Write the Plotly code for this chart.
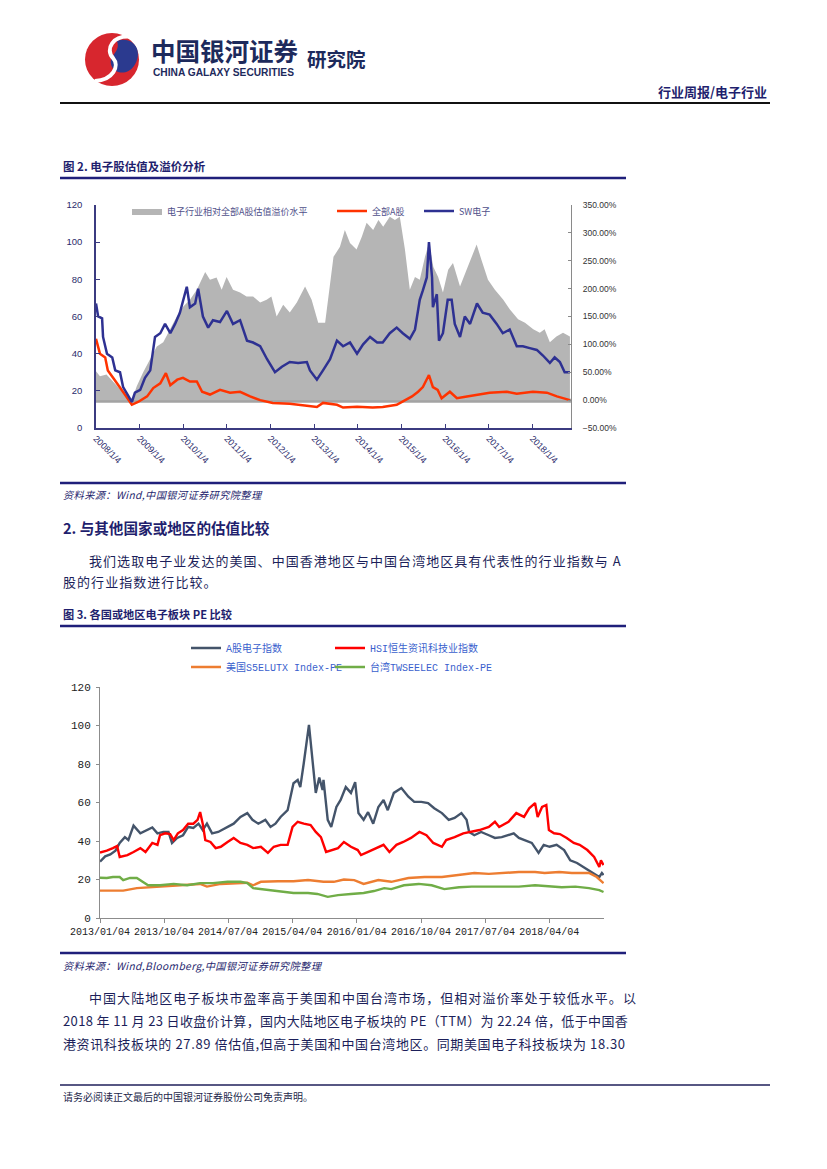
import plotly.graph_objects as go
import pandas as pd

# The page body adds an 8px margin, so the figure is drawn 8px in from the window edge.
OFF = 8
W, H = 827 - OFF, 1169 - OFF


def X(px):
    return (px - OFF) / W


def Y(py):
    return 1 - (py - OFF) / H


def to_dates(years):
    out = []
    for t in years:
        y = int(t)
        s = pd.Timestamp(year=y, month=1, day=1)
        e = pd.Timestamp(year=y + 1, month=1, day=1)
        out.append((s + (e - s) * (t - y)).strftime('%Y-%m-%d'))
    return out


# ---------------- Figure 2 data (decimal years) ----------------
sw_t = [2008.01, 2008.06, 2008.15, 2008.17, 2008.26, 2008.38, 2008.45, 2008.56, 2008.63, 2008.83,
        2008.90, 2009.02, 2009.13, 2009.25, 2009.36, 2009.48, 2009.59, 2009.71, 2009.82, 2009.93,
        2010.09, 2010.16, 2010.28, 2010.35, 2010.46, 2010.58, 2010.69, 2010.85, 2011.01, 2011.15,
        2011.31, 2011.47, 2011.61, 2011.77, 2011.93, 2012.11, 2012.27, 2012.45, 2012.64, 2012.84,
        2012.91, 2013.07, 2013.21, 2013.37, 2013.53, 2013.67, 2013.83, 2013.99, 2014.13, 2014.29,
        2014.45, 2014.58, 2014.74, 2014.90, 2015.04, 2015.20, 2015.32, 2015.43, 2015.50, 2015.59,
        2015.64, 2015.71, 2015.73, 2015.82, 2015.87, 2015.96, 2016.07, 2016.16, 2016.23, 2016.35,
        2016.46, 2016.58, 2016.74, 2016.87, 2017.03, 2017.19, 2017.33, 2017.49, 2017.65, 2017.79,
        2017.95, 2018.11, 2018.25, 2018.41, 2018.52, 2018.64, 2018.75, 2018.87]
sw_pe = [67, 60, 59, 49, 40, 38, 31, 30, 22, 14,
         19, 20.5, 27, 31, 49, 51, 56, 51, 56, 62,
         76, 65, 67, 75, 60, 54, 58, 57, 63, 56,
         58, 47, 46, 44, 37, 30, 33, 35.5, 35, 35.5,
         31, 26, 31, 37, 47, 44, 46, 40, 45, 49,
         46, 46, 51, 54, 51, 48, 53, 69, 74, 81,
         100, 81, 65, 72, 47, 51, 69, 69, 56, 49,
         60, 56, 67, 62, 61, 56, 51, 53, 44, 44,
         43, 42, 39, 35, 38, 35.5, 30, 30]

a_t = [2008.01, 2008.10, 2008.22, 2008.28, 2008.40, 2008.56, 2008.67, 2008.83, 2008.97, 2009.18,
       2009.32, 2009.48, 2009.61, 2009.71, 2009.87, 2010.00, 2010.16, 2010.32, 2010.44, 2010.62,
       2010.85, 2011.08, 2011.31, 2011.54, 2011.77, 2012.06, 2012.45, 2012.84, 2013.07, 2013.21,
       2013.53, 2013.67, 2013.99, 2014.35, 2014.58, 2014.90, 2015.09, 2015.25, 2015.39, 2015.50,
       2015.64, 2015.73, 2015.84, 2015.93, 2016.12, 2016.28, 2016.51, 2016.74, 2017.03, 2017.42,
       2017.65, 2018.02, 2018.34, 2018.57, 2018.87]
a_pe = [48, 40, 38, 31, 27, 22, 18, 12.5, 14, 17,
        21.5, 24, 29.5, 23, 26, 27, 25, 25, 19.5, 18,
        20.5, 19, 19.5, 17, 15, 13.5, 13, 12, 11.3, 13.5,
        12.5, 11, 11.5, 11, 11.3, 12.5, 15, 17, 19.5, 22,
        28.5, 22, 20.5, 16, 19.5, 16, 17, 18, 19, 19.5,
        18.5, 19.5, 19, 17, 15]

prem_t = [2008.01, 2008.10, 2008.25, 2008.41, 2008.56, 2008.71, 2008.83, 2008.94, 2009.09, 2009.25,
          2009.40, 2009.55, 2009.71, 2009.86, 2010.01, 2010.16, 2010.32, 2010.51, 2010.62, 2010.77,
          2010.89, 2011.00, 2011.15, 2011.31, 2011.46, 2011.61, 2011.77, 2011.92, 2012.03, 2012.15,
          2012.30, 2012.45, 2012.61, 2012.80, 2012.95, 2013.10, 2013.26, 2013.33, 2013.45, 2013.60,
          2013.71, 2013.83, 2013.98, 2014.10, 2014.21, 2014.36, 2014.48, 2014.59, 2014.74, 2014.86,
          2014.97, 2015.09, 2015.20, 2015.32, 2015.43, 2015.55, 2015.64, 2015.74, 2015.85, 2015.96,
          2016.08, 2016.19, 2016.35, 2016.50, 2016.62, 2016.73, 2016.84, 2016.99, 2017.15, 2017.34,
          2017.49, 2017.68, 2017.84, 2018.03, 2018.18, 2018.29, 2018.41, 2018.56, 2018.71, 2018.87]
prem = [0.52, 0.43, 0.46, 0.32, 0.20, 0.07, 0.00, 0.25, 0.50, 0.73,
        0.96, 1.04, 1.27, 1.50, 1.68, 1.80, 1.98, 2.30, 2.16, 2.20,
        1.98, 2.21, 1.98, 1.93, 1.86, 1.86, 1.75, 1.80, 1.86, 1.50,
        1.71, 1.57, 1.75, 2.04, 1.80, 1.39, 1.39, 1.80, 2.57, 2.75,
        3.05, 2.82, 2.70, 2.93, 3.18, 3.05, 3.23, 3.11, 3.29, 3.23,
        3.29, 2.70, 1.98, 2.21, 2.16, 2.57, 2.82, 2.39, 2.21, 1.93,
        2.34, 2.46, 2.04, 2.34, 2.57, 2.79, 2.52, 2.16, 1.98, 1.80,
        1.63, 1.45, 1.39, 1.27, 1.21, 1.27, 1.04, 1.14, 1.21, 1.14]

fig2_ticks = ['2008-01-04', '2009-01-04', '2010-01-04', '2011-01-04', '2012-01-04', '2013-01-04',
              '2014-01-04', '2015-01-04', '2016-01-04', '2017-01-04', '2018-01-04']
fig2_ticktext = ['2008/1/4', '2009/1/4', '2010/1/4', '2011/1/4', '2012/1/4', '2013/1/4',
                 '2014/1/4', '2015/1/4', '2016/1/4', '2017/1/4', '2018/1/4']

# ---------------- Figure 3 data (decimal years) ----------------
cn_t = [2013.01, 2013.07, 2013.13, 2013.19, 2013.24, 2013.30, 2013.34, 2013.40, 2013.48, 2013.56,
        2013.62, 2013.68, 2013.75, 2013.81, 2013.85, 2013.91, 2013.98, 2014.04, 2014.10, 2014.16,
        2014.21, 2014.26, 2014.32, 2014.39, 2014.50, 2014.57, 2014.65, 2014.73, 2014.79, 2014.86,
        2014.94, 2015.00, 2015.06, 2015.12, 2015.20, 2015.24, 2015.27, 2015.32, 2015.35, 2015.39,
        2015.45, 2015.50, 2015.53, 2015.57, 2015.61, 2015.62, 2015.67, 2015.71, 2015.77, 2015.82,
        2015.88, 2015.94, 2015.99, 2016.03, 2016.09, 2016.14, 2016.20, 2016.26, 2016.32, 2016.37,
        2016.44, 2016.53, 2016.61, 2016.68, 2016.76, 2016.84, 2016.91, 2017.00, 2017.08, 2017.15,
        2017.23, 2017.29, 2017.32, 2017.38, 2017.46, 2017.55, 2017.62, 2017.70, 2017.78, 2017.84,
        2017.90, 2017.97, 2018.05, 2018.13, 2018.19, 2018.26, 2018.34, 2018.43, 2018.50, 2018.58,
        2018.67, 2018.75, 2018.84, 2018.87, 2018.89]
cn_pe = [29.3, 32, 33, 35, 39, 42, 40.5, 48, 44, 45.7,
         47, 44, 44.7, 44.7, 39, 41.6, 43, 47.3, 46.8, 49,
         45.7, 49, 44, 44.7, 47.3, 49, 52.5, 54.5, 51, 49,
         51, 47.3, 49, 52.5, 56, 63, 70, 71.7, 68, 80.5,
         100.3, 78.4, 65, 73, 66.5, 71.7, 51, 47.3, 57.7, 61.3,
         68, 65, 70.6, 54.5, 51, 55, 49, 57.7, 61.3, 56,
         65, 67.5, 63, 60.3, 60.3, 59.7, 57, 54.5, 51, 52,
         54.5, 51, 44.7, 43, 44.7, 43, 41.6, 42, 43, 44,
         41.6, 40.5, 39, 33.8, 38, 37, 38, 35.3, 30, 28.6,
         26, 23.9, 21.3, 23.4, 22.3]

hk_t = [2013.01, 2013.09, 2013.16, 2013.21, 2013.24, 2013.33, 2013.40, 2013.48, 2013.54, 2013.62,
        2013.68, 2013.71, 2013.77, 2013.83, 2013.87, 2013.92, 2013.98, 2014.04, 2014.10, 2014.15,
        2014.18, 2014.21, 2014.24, 2014.30, 2014.36, 2014.42, 2014.50, 2014.57, 2014.65, 2014.73,
        2014.80, 2014.89, 2014.97, 2015.04, 2015.12, 2015.20, 2015.26, 2015.32, 2015.39, 2015.47,
        2015.53, 2015.59, 2015.65, 2015.71, 2015.79, 2015.86, 2015.94, 2016.02, 2016.06, 2016.14,
        2016.23, 2016.32, 2016.39, 2016.47, 2016.55, 2016.64, 2016.74, 2016.82, 2016.90, 2017.00,
        2017.05, 2017.15, 2017.25, 2017.35, 2017.44, 2017.55, 2017.62, 2017.67, 2017.78, 2017.87,
        2017.96, 2018.02, 2018.09, 2018.12, 2018.17, 2018.22, 2018.25, 2018.31, 2018.38, 2018.46,
        2018.54, 2018.61, 2018.70, 2018.78, 2018.84, 2018.86, 2018.89]
hk_pe = [34, 35, 36.3, 37.4, 31.7, 32.7, 34.3, 36.3, 34.3, 39,
         38, 43, 44, 43.6, 40.5, 44, 45.7, 49, 49, 51,
         55, 49, 40.5, 39.5, 36.3, 37, 39.5, 41.6, 39, 38,
         36.3, 37, 33.8, 37, 38, 38, 47.3, 50, 49, 48.3,
         44.7, 42, 34.3, 35.3, 36.3, 39.5, 37, 35.3, 32.7, 34.3,
         36.3, 38, 34.3, 38, 39.5, 41.6, 44.7, 43, 39, 37,
         40.5, 42, 44, 44.7, 45.7, 47.3, 50, 47.3, 50, 54.5,
         52.5, 57, 59.7, 52.5, 57.7, 58.7, 45.7, 44, 43.6, 41.6,
         39, 38, 35.3, 31.7, 26.5, 30, 27.5]

us_t = [2013.01, 2013.28, 2013.44, 2013.63, 2013.80, 2013.95, 2014.18, 2014.26, 2014.42, 2014.57,
        2014.73, 2014.80, 2014.89, 2015.09, 2015.27, 2015.44, 2015.62, 2015.74, 2015.86, 2015.98,
        2016.09, 2016.26, 2016.41, 2016.61, 2016.80, 2017.00, 2017.20, 2017.38, 2017.55, 2017.73,
        2017.90, 2018.09, 2018.20, 2018.37, 2018.52, 2018.72, 2018.81, 2018.89]
us_pe = [14.2, 14.2, 15.5, 16, 16.3, 17, 17.7, 16.3, 17.7, 18.1,
         18.3, 17, 18.8, 19.1, 19.1, 19.7, 18.8, 18.8, 20, 19.7,
         17.7, 19.7, 18.8, 20.8, 21.3, 21.3, 22.3, 23.4, 22.9, 23.4,
         23.9, 23.9, 23.4, 23.9, 23.4, 23.4, 21.3, 18.1]

tw_t = [2013.01, 2013.09, 2013.16, 2013.24, 2013.28, 2013.36, 2013.44, 2013.51, 2013.57, 2013.71,
        2013.87, 2014.03, 2014.18, 2014.33, 2014.50, 2014.65, 2014.73, 2014.80, 2014.97, 2015.12,
        2015.27, 2015.44, 2015.55, 2015.67, 2015.79, 2015.94, 2016.09, 2016.21, 2016.33, 2016.41,
        2016.56, 2016.73, 2016.88, 2017.03, 2017.20, 2017.35, 2017.55, 2017.73, 2017.90, 2018.09,
        2018.25, 2018.40, 2018.56, 2018.72, 2018.84, 2018.89]
tw_pe = [20.9, 20.8, 21.3, 21.3, 19.7, 20.8, 20.8, 18.8, 17, 17,
         17.7, 17, 18.1, 18.1, 18.8, 18.8, 18.1, 15.5, 14.5, 13.5,
         13, 13, 12.5, 11, 11.9, 12.5, 13, 14, 15.5, 15,
         17, 17.7, 17, 15, 16, 16.3, 16.3, 16.6, 16.3, 17,
         16.3, 16, 16.3, 15.5, 14.5, 13.5]

NAVY = '#1f1f6e'
TEXT = '#1c1f5a'
CJK = 'Noto Sans CJK SC'

fig = go.Figure()

# ---- Figure 2 traces (area on base axis 'y' = right % axis, lines on overlaid 'y2' = left PE axis) ----
fig.add_trace(go.Scatter(x=to_dates(prem_t), y=prem, name='电子行业相对全部A股估值溢价水平',
                         mode='lines', fill='tozeroy', fillcolor='#B5B5B5', line=dict(width=0, color='#B5B5B5'),
                         xaxis='x', yaxis='y', legend='legend', hoverinfo='skip'))
fig.add_trace(go.Scatter(x=to_dates(a_t), y=a_pe, name='全部A股', mode='lines',
                         line=dict(color='#FF3300', width=2.5), xaxis='x', yaxis='y2', legend='legend2'))
fig.add_trace(go.Scatter(x=to_dates(sw_t), y=sw_pe, name='SW电子', mode='lines',
                         line=dict(color='#2E3192', width=2.5), xaxis='x', yaxis='y2', legend='legend3'))

# ---- Figure 3 traces ----
fig.add_trace(go.Scatter(x=to_dates(cn_t), y=cn_pe, name='A股电子指数', mode='lines',
                         line=dict(color='#44546A', width=2.4), xaxis='x2', yaxis='y3', legend='legend4'))
fig.add_trace(go.Scatter(x=to_dates(hk_t), y=hk_pe, name='HSI恒生资讯科技业指数', mode='lines',
                         line=dict(color='#FF0000', width=2.4), xaxis='x2', yaxis='y3', legend='legend5'))
fig.add_trace(go.Scatter(x=to_dates(us_t), y=us_pe, name='美国S5ELUTX Index-PE', mode='lines',
                         line=dict(color='#ED7D31', width=2.4), xaxis='x2', yaxis='y3', legend='legend6'))
fig.add_trace(go.Scatter(x=to_dates(tw_t), y=tw_pe, name='台湾TWSEELEC Index-PE', mode='lines',
                         line=dict(color='#70AD47', width=2.4), xaxis='x2', yaxis='y3', legend='legend7'))

leg1_font = dict(family=CJK, size=9, color='#50508a')
leg2_font = dict(family='Liberation Mono, ' + CJK, size=10, color='#3A5FCD')
common_leg = dict(orientation='h', xanchor='left', yanchor='middle', bgcolor='rgba(0,0,0,0)',
                  borderwidth=0, itemwidth=30, traceorder='normal')

fig.update_layout(
    width=W, height=H,
    margin=dict(l=0, r=0, t=0, b=0, autoexpand=False),
    paper_bgcolor='white', plot_bgcolor='rgba(0,0,0,0)',
    font=dict(family=CJK, color=TEXT),
    showlegend=True,
    legend=dict(x=X(127), y=Y(211), font=leg1_font, **common_leg),
    legend2=dict(x=X(332), y=Y(211), font=leg1_font, **common_leg),
    legend3=dict(x=X(419), y=Y(211), font=leg1_font, **common_leg),
    legend4=dict(x=X(186), y=Y(648), font=leg2_font, **common_leg),
    legend5=dict(x=X(330), y=Y(648), font=leg2_font, **common_leg),
    legend6=dict(x=X(186), y=Y(667), font=leg2_font, **common_leg),
    legend7=dict(x=X(330), y=Y(667), font=leg2_font, **common_leg),
    xaxis=dict(type='date', domain=[X(96), X(571)], anchor='y', range=['2008-01-04', '2018-11-23'],
               tickvals=fig2_ticks, ticktext=fig2_ticktext, tickangle=45, automargin=False,
               tickfont=dict(family='Liberation Sans', size=9, color='#2b2b6b'),
               showline=True, linecolor='#3b3b80', linewidth=1.5, ticks='inside', ticklen=4,
               tickcolor='#3b3b80', showgrid=False, zeroline=False),
    yaxis=dict(domain=[Y(428), Y(205)], anchor='x', side='right', range=[-0.5, 3.5], dtick=0.5,
               tickformat='.2%', tickfont=dict(family='Liberation Sans', size=8.5, color='#333333'),
               showline=True, linecolor='#8a8a8a', linewidth=1, ticks='inside', ticklen=3, automargin=False,
               tickcolor='#8a8a8a', showgrid=False, zeroline=False, ticklabelstandoff=9),
    yaxis2=dict(overlaying='y', side='left', anchor='x', range=[0, 120], dtick=20, automargin=False,
                tickfont=dict(family='Liberation Sans', size=9.5, color='#2b2b6b'),
                showline=True, linecolor='#3b3b80', linewidth=1.5, ticks='inside', ticklen=4,
                tickcolor='#3b3b80', showgrid=False, zeroline=False, ticklabelstandoff=10),
    xaxis2=dict(type='date', domain=[X(100), X(604)], anchor='y3', range=['2013-01-04', '2018-11-23'],
                tick0='2013-01-04', dtick='M9', tickformat='%Y/%m/%d', tickangle=0, automargin=False,
                tickfont=dict(family='Liberation Mono', size=10, color='#222222'),
                showline=True, linecolor='#8c8c8c', linewidth=1, ticks='outside', ticklen=4,
                tickcolor='#8c8c8c', showgrid=False, zeroline=False),
    yaxis3=dict(domain=[Y(918), Y(687)], anchor='x2', range=[0, 120], dtick=20, automargin=False,
                tickfont=dict(family='Liberation Mono', size=11, color='#222222'),
                showline=True, linecolor='#8c8c8c', linewidth=1, ticks='outside', ticklen=3,
                tickcolor='#8c8c8c', showgrid=False, zeroline=False, ticklabelstandoff=3),
)


def hline(y, x0, x1, color, width):
    fig.add_shape(type='line', xref='paper', yref='paper', x0=X(x0), x1=X(x1), y0=Y(y), y1=Y(y),
                  line=dict(color=color, width=width), layer='above')


hline(103, 60, 770, '#111111', 2)
hline(178, 60, 626, '#1f1f7a', 2.5)
hline(483, 60, 626, '#1f1f7a', 2.5)
hline(626, 60, 626, '#1f1f7a', 2.5)
hline(953, 60, 626, '#1f1f7a', 2.5)
hline(1085, 60, 770, '#1f1f5a', 1.5)

# 0% reference band on the premium axis
fig.add_shape(type='line', xref='x domain', yref='y', x0=0, x1=1, y0=-0.01, y1=-0.01,
              line=dict(color='#A3A3A3', width=4), layer='below')


def path(cmds):
    s = ''
    for c in cmds:
        if isinstance(c, str):
            s += c
        else:
            s += f'{X(c[0]):.5f},{Y(c[1]):.5f} '
    return s


# logo
fig.add_shape(type='circle', xref='paper', yref='paper', x0=X(85), x1=X(139), y0=Y(86), y1=Y(33),
              fillcolor='#D7262E', line=dict(width=0), layer='above')
fig.add_shape(type='path', xref='paper', yref='paper',
              path=path(['M', (117, 41), 'C', (134, 35), (144, 52), (134, 66), 'C', (127, 76), (113, 74),
                         (111, 64), 'C', (109, 55), (121, 52), (117, 41), 'Z']),
              fillcolor='#2B3A8F', line=dict(width=0), layer='above')
fig.add_shape(type='path', xref='paper', yref='paper',
              path=path(['M', (133, 37), 'C', (112, 34), (105, 50), (113, 58), 'C', (120, 66), (113, 80), (95, 81)]),
              line=dict(color='white', width=4), layer='above')


def note(text, x, y, size, color=TEXT, anchor='left', family=CJK):
    fig.add_annotation(text=text, x=X(x), y=Y(y), xref='paper', yref='paper', xanchor=anchor,
                       yanchor='middle', showarrow=False, font=dict(size=size, color=color, family=family))


note('<b>中国银河证券</b>', 149, 51, 24.5, '#1d2a5c')
note('<b>CHINA GALAXY SECURITIES</b>', 151, 72, 10.2, '#1d2a5c', family='Liberation Sans')
note('<b>研究院</b>', 305, 58, 19.5, '#1d2a5c')
note('<b>行业周报/电子行业</b>', 769, 92, 13, NAVY, anchor='right')
note('<b>图 2. 电子股估值及溢价分析</b>', 61, 166, 11.5, NAVY)
note('<i><span style="letter-spacing:0.4px">资料来源：Wind,中国银河证券研究院整理</span></i>', 61, 494, 10.2, NAVY)
note('<b>2. 与其他国家或地区的估值比较</b>', 61, 527, 14.6, NAVY)


def para(text, x, y, ls):
    note(f'<span style="letter-spacing:{ls}px">{text}</span>', x, y, 13, TEXT)


para('我们选取电子业发达的美国、中国香港地区与中国台湾地区具有代表性的行业指数与 A', 87, 560, 1.05)
para('股的行业指数进行比较。', 61, 581, 1.05)
note('<b>图 3. 各国或地区电子板块 PE 比较</b>', 61, 614, 11.2, NAVY)
note('<i><span style="letter-spacing:0.4px">资料来源：Wind,Bloomberg,中国银河证券研究院整理</span></i>', 61, 965, 10.2, NAVY)
para('中国大陆地区电子板块市盈率高于美国和中国台湾市场，但相对溢价率处于较低水平。以', 87, 997, 1.05)
para('2018 年 11 月 23 日收盘价计算，国内大陆地区电子板块的 PE（TTM）为 22.24 倍，低于中国香', 61, 1020, 0.35)
para('港资讯科技板块的 27.89 倍估值,但高于美国和中国台湾地区。同期美国电子科技板块为 18.30', 61, 1043, 0.62)
note('请务必阅读正文最后的中国银河证券股份公司免责声明。', 61, 1096, 10, '#1c1f4a')

fig.write_html('out.html')
